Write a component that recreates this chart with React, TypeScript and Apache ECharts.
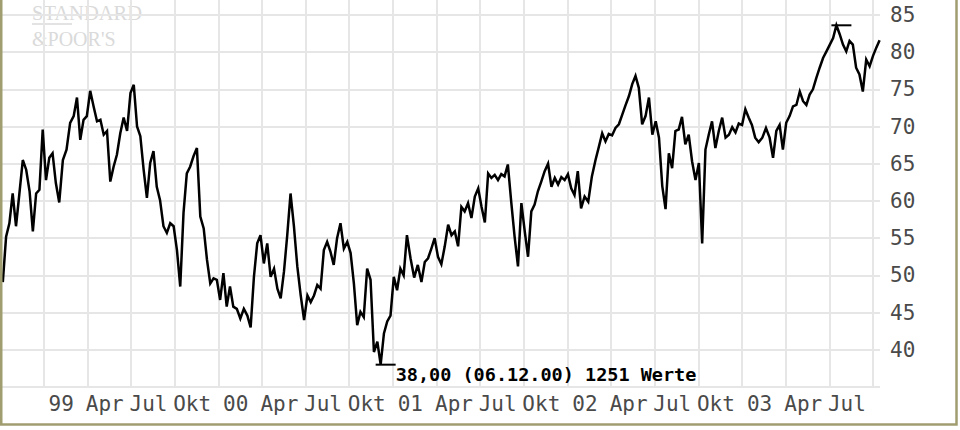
import React, { useEffect, useRef } from "react";
import * as echarts from "echarts";

// Weekly closing values (first week starts 1998-10-07)
const startDate = { year: 1998, month: 10, day: 7 };
const stepDays = 7;
const valueCount = 1251;

const weeklyCloses = [
  49.1, 55.2, 57.0, 61.0, 56.6, 61.0, 65.5, 64.2, 61.3, 55.9,
  61.0, 61.5, 69.6, 62.8, 65.8, 66.4, 62.4, 59.8, 65.5, 66.9,
  70.5, 71.4, 73.9, 68.2, 70.9, 71.4, 74.8, 72.7, 70.7, 70.9,
  68.9, 69.4, 62.6, 64.6, 66.2, 69.1, 71.2, 69.4, 74.5, 75.6,
  70.0, 68.7, 64.2, 60.4, 65.1, 66.7, 61.9, 60.1, 56.6, 55.7,
  57.0, 56.6, 53.4, 48.5, 58.4, 63.7, 64.6, 66.0, 67.1, 57.9,
  56.3, 52.1, 48.9, 49.6, 49.4, 46.7, 50.3, 45.8, 48.5, 45.8,
  45.5, 44.2, 45.5, 44.6, 43.0, 49.8, 54.3, 55.4, 51.6, 54.3,
  49.8, 50.9, 48.2, 46.9, 50.5, 55.4, 61.0, 56.6, 51.2, 47.3,
  44.0, 47.3, 46.4, 47.3, 48.7, 48.2, 53.4, 54.5, 53.2, 51.4,
  55.0, 57.0, 53.6, 54.5, 53.0, 48.9, 43.3, 45.1, 44.4, 50.9,
  49.4, 39.7, 41.1, 38.0, 42.2, 43.8, 44.6, 49.8, 48.0, 50.9,
  50.0, 55.4, 52.3, 49.7, 51.4, 49.1, 51.8, 52.3, 53.6, 55.0,
  52.5, 51.5, 53.9, 56.8, 55.4, 55.9, 53.9, 59.2, 58.6, 59.7,
  57.7, 60.6, 61.7, 59.2, 57.1, 63.7, 63.1, 63.5, 62.8, 63.6,
  63.3, 64.9, 59.9, 55.2, 51.2, 59.7, 55.9, 52.5, 58.6, 59.5,
  61.3, 62.6, 64.0, 65.0, 61.9, 63.1, 62.2, 63.2, 62.8, 63.6,
  61.7, 60.8, 64.0, 59.0, 60.6, 59.9, 63.3, 65.5, 67.3, 69.1,
  68.0, 69.0, 68.8, 69.8, 70.3, 71.6, 72.9, 74.1, 75.7, 76.8,
  75.2, 70.3, 71.4, 73.9, 68.9, 70.7, 68.5, 62.0, 58.9, 66.4,
  64.4, 69.4, 69.6, 71.3, 67.6, 68.9, 65.3, 62.8, 65.1, 54.3,
  66.9, 68.9, 70.7, 67.1, 69.4, 71.2, 68.5, 68.9, 69.9, 69.2,
  70.4, 70.2, 72.3, 71.2, 70.2, 68.5, 67.9, 68.5, 69.8, 68.5,
  65.8, 69.4, 70.2, 66.9, 70.5, 71.4, 72.7, 72.9, 74.7, 73.4,
  72.9, 74.3, 75.0, 76.5, 77.9, 79.2, 80.1, 81.0, 81.9, 83.6,
  82.4, 81.0, 80.1, 81.5, 81.0, 77.9, 77.0, 74.7, 79.0, 78.1,
  79.5, 80.6, 81.6,
];

// Quarter tick labels (January shows the two-digit year)
const quarterLabels = ["", "Apr", "Jul", "Okt"];
const xRange = [1998.75, 2003.79];
const yRange = [35, 87];
const logoLines = ["STANDARD", "&POOR'S"];

const DAY = 86400000;
const monoFont = "'DejaVu Sans Mono', monospace";

function toFracYear(d: Date): number {
  const y = d.getUTCFullYear();
  const m = d.getUTCMonth();
  const day = d.getUTCDate();
  const dim = new Date(Date.UTC(y, m + 1, 0)).getUTCDate();
  return y + (m + (day - 1) / dim) / 12;
}

function pad2(n: number): string {
  return (n < 10 ? "0" : "") + n;
}

export default function App() {
  const ref = useRef<HTMLDivElement>(null);

  useEffect(() => {
    document.body.style.margin = "0";
    if (!ref.current) return;
    const chart = echarts.init(ref.current, undefined, { renderer: "svg" });

    const startMs = Date.UTC(startDate.year, startDate.month - 1, startDate.day);
    const dates = weeklyCloses.map((_, i) => new Date(startMs + i * stepDays * DAY));
    const data = weeklyCloses.map((v, i) => [toFracYear(dates[i]), v]);

    let minIdx = 0;
    weeklyCloses.forEach((v, i) => {
      if (v < weeklyCloses[minIdx]) minIdx = i;
    });
    const md = dates[minIdx];
    const minText =
      weeklyCloses[minIdx].toFixed(2).replace(".", ",") +
      " (" + pad2(md.getUTCDate()) + "." + pad2(md.getUTCMonth() + 1) + "." +
      pad2(md.getUTCFullYear() % 100) + ") " + valueCount + " Werte";

    const xFormatter = (v: number) => {
      const y = Math.floor(v + 1e-6);
      const q = Math.round((v - y) * 4);
      if (v < 1998.99 || v > 2003.7) return "";
      if (q === 0) return pad2(y % 100);
      return quarterLabels[q] || "";
    };

    chart.setOption({
      animation: false,
      backgroundColor: "#ffffff",
      grid: { left: 0, right: 80, top: 0, bottom: 43, containLabel: false },
      xAxis: {
        type: "value",
        min: xRange[0],
        max: xRange[1],
        interval: 0.25,
        axisLine: { show: false },
        axisTick: { show: false },
        splitLine: {
          show: true,
          showMaxLine: false,
          lineStyle: { color: "#e6e6e6", width: 2 },
        },
        axisLabel: {
          formatter: xFormatter,
          showMinLabel: false,
          showMaxLabel: false,
          align: "center",
          padding: [0, 0, 0, 35],
          margin: 6,
          fontFamily: monoFont,
          fontSize: 21,
          color: "#4a4a4a",
        },
      },
      yAxis: {
        type: "value",
        position: "right",
        min: yRange[0],
        max: yRange[1],
        interval: 5,
        axisLine: { show: false },
        axisTick: { show: false },
        splitLine: {
          show: true,
          showMaxLine: false,
          lineStyle: { color: "#e6e6e6", width: 2 },
        },
        axisLabel: {
          showMinLabel: false,
          showMaxLabel: false,
          formatter: (v: number) => (v < 40 || v > 85 ? "" : String(v)),
          margin: 10,
          fontFamily: monoFont,
          fontSize: 21,
          color: "#4a4a4a",
        },
      },
      graphic: [
        {
          type: "text",
          left: 32,
          top: 2,
          z: 0,
          style: {
            text: logoLines[0],
            font: "20.5px 'Liberation Serif', serif",
            fill: "#dadada",
          },
        },
        {
          type: "line",
          z: 0,
          shape: { x1: 32, y1: 24, x2: 72, y2: 24 },
          style: { stroke: "#dadada", lineWidth: 1.5 },
        },
        {
          type: "text",
          left: 32,
          top: 29,
          z: 0,
          style: {
            text: logoLines[1],
            font: "20px 'Liberation Serif', serif",
            fill: "#dadada",
          },
        },
        {
          type: "rect",
          z: 10,
          shape: { x: 1.25, y: -5, width: 955.25, height: 429.5 },
          style: { fill: "none", stroke: "#a09d70", lineWidth: 2.5 },
        },
      ],
      series: [
        {
          type: "line",
          data,
          showSymbol: false,
          symbol: "none",
          lineStyle: { color: "#000000", width: 2.5, join: "miter" },
          z: 3,
          markPoint: {
            symbol: "rect",
            symbolSize: [20, 2],
            symbolOffset: [5, 0],
            itemStyle: { color: "#000000" },
            data: [
              { type: "max", valueIndex: 1, label: { show: false } },
              {
                type: "min",
                valueIndex: 1,
                label: {
                  show: true,
                  formatter: () => minText,
                  position: "right",
                  distance: 0,
                  offset: [0, 10],
                  align: "left",
                  verticalAlign: "middle",
                  fontFamily: monoFont,
                  fontWeight: "bold",
                  fontSize: 18.5,
                  color: "#000000",
                },
              },
            ],
          },
        },
      ],
    });

    return () => {
      chart.dispose();
    };
  }, []);

  return <div ref={ref} style={{ width: 960, height: 430 }} />;
}
